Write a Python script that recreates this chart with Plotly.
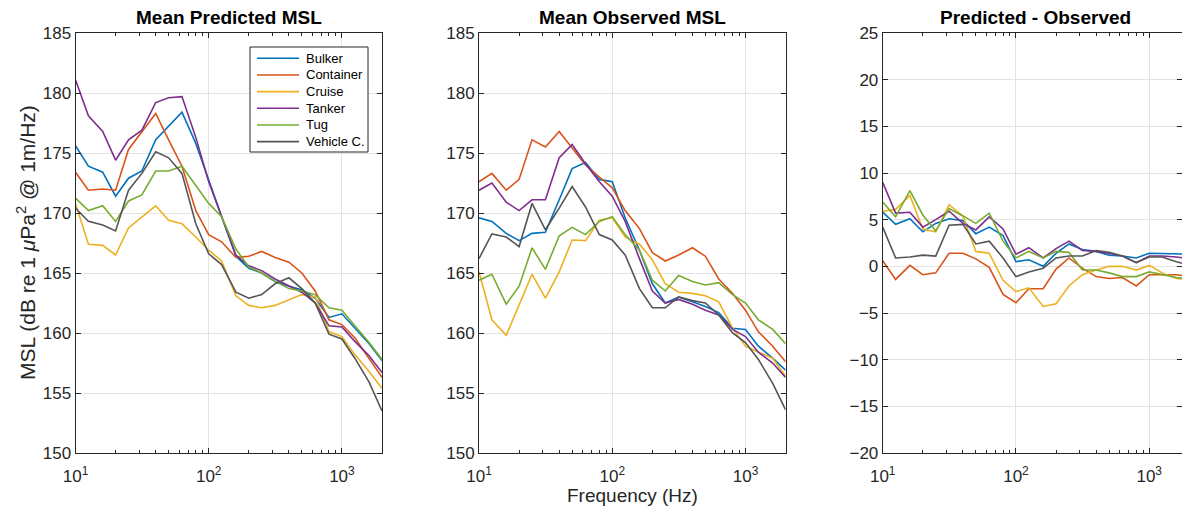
import plotly.graph_objects as go

freqs = [10, 12.5, 16, 20, 25, 31.5, 40, 50, 63, 80, 100, 125, 160, 200, 250,
         315, 400, 500, 630, 800, 1000, 1250, 1600, 2000]

names = ["Bulker", "Container", "Cruise", "Tanker", "Tug", "Vehicle C."]
colors = ["#0072BD", "#D95319", "#EDB120", "#7E2F8E", "#77AC30", "#555555"]

pred_bulker = [175.6, 173.9, 173.4, 171.4, 172.9, 173.5, 176.1, 177.2, 178.4, 175.8, 172.7, 169.7,
               166.4, 165.4, 165.0, 164.3, 163.9, 163.6, 162.9, 161.3, 161.6, 160.4, 159.1, 157.7]
pred_container = [173.4, 171.9, 172.0, 171.9, 175.3, 176.8, 178.3, 176.1, 173.9, 170.2, 168.2, 167.6,
                  166.3, 166.4, 166.8, 166.3, 165.9, 165.0, 163.5, 161.1, 160.7, 159.6, 157.9, 156.3]
pred_cruise = [170.8, 167.4, 167.3, 166.5, 168.75, 169.7, 170.6, 169.4, 169.1, 168.0, 166.9, 166.0,
               163.1, 162.3, 162.1, 162.3, 162.8, 163.2, 163.0, 160.1, 159.7, 158.2, 156.8, 155.4]
pred_tanker = [181.1, 178.1, 176.8, 174.4, 176.1, 176.9, 179.2, 179.6, 179.7, 176.3, 172.6, 169.7,
               166.5, 165.6, 165.2, 164.5, 163.9, 163.4, 162.5, 160.6, 160.5, 159.3, 158.1, 156.7]
pred_tug = [171.25, 170.2, 170.6, 169.3, 171.0, 171.5, 173.5, 173.5, 173.9, 172.3, 170.8, 169.7,
            167.0, 165.5, 165.0, 164.3, 163.7, 163.5, 163.2, 162.1, 161.9, 160.6, 159.2, 157.8]
pred_vehicle = [170.4, 169.3, 169.0, 168.5, 171.9, 173.3, 175.1, 174.6, 173.3, 169.1, 166.6, 165.7,
                163.4, 162.9, 163.2, 164.1, 164.6, 163.7, 162.5, 159.9, 159.5, 157.9, 155.9, 153.5]

obs_bulker = [169.6, 169.3, 168.3, 167.7, 168.3, 168.4, 171.1, 173.7, 174.2, 172.8, 172.6, 169.6,
              166.9, 164.1, 162.5, 163.0, 162.6, 162.2, 161.7, 160.4, 160.3, 158.9, 157.9, 156.9]
obs_container = [172.6, 173.3, 171.9, 172.8, 176.1, 175.5, 176.8, 175.4, 174.0, 173.0, 172.1, 170.2,
                 168.7, 166.7, 166.0, 166.5, 167.1, 166.4, 164.5, 163.3, 161.9, 160.1, 158.9, 157.6]
obs_cruise = [165.1, 161.1, 159.8, 162.3, 164.9, 162.9, 165.1, 167.75, 167.7, 169.4, 169.6, 168.0,
              167.4, 166.1, 164.1, 163.4, 163.3, 163.1, 162.6, 160.4, 158.9, 158.4, 157.9, 156.4]
obs_tanker = [171.9, 172.5, 170.9, 170.2, 171.1, 171.1, 174.6, 175.7, 174.1, 172.6, 171.4, 169.3,
              166.2, 163.5, 162.5, 162.8, 162.4, 161.9, 161.5, 160.3, 159.7, 158.4, 157.5, 156.3]
obs_tug = [164.4, 164.9, 162.4, 163.9, 167.1, 165.3, 168.1, 168.8, 168.2, 169.3, 169.7, 168.2,
           166.9, 164.4, 163.5, 164.8, 164.3, 164.0, 164.2, 163.2, 162.5, 161.1, 160.3, 159.1]
obs_vehicle = [166.2, 168.25, 168.0, 167.2, 170.8, 168.6, 170.4, 172.2, 170.5, 168.2, 167.75, 166.5,
               163.7, 162.1, 162.1, 163.0, 162.7, 162.5, 161.5, 160.0, 159.2, 157.8, 155.8, 153.6]

diff_bulker = [5.8, 4.5, 5.1, 3.7, 4.6, 5.1, 4.9, 3.5, 4.2, 3.3, 0.5, 0.7,
               0.0, 1.4, 2.4, 1.8, 1.6, 1.2, 1.1, 0.9, 1.4, 1.4, 1.4, 1.3]
diff_container = [0.6, -1.4, 0.1, -0.9, -0.7, 1.4, 1.4, 0.8, -0.1, -3.0, -3.9, -2.4,
                  -2.4, -0.3, 0.9, -0.2, -1.1, -1.3, -1.2, -2.1, -0.9, -0.9, -0.9, -1.1]
diff_cruise = [5.9, 6.1, 7.6, 4.0, 3.7, 6.6, 5.4, 1.6, 1.4, -1.5, -2.7, -2.3,
               -4.3, -4.0, -2.1, -0.9, -0.4, 0.0, 0.0, -0.4, 0.1, -0.7, -1.3, -1.4]
diff_tanker = [9.0, 5.7, 5.8, 4.2, 5.0, 5.9, 4.6, 3.9, 5.3, 4.0, 1.3, 2.0,
               0.9, 1.9, 2.7, 1.7, 1.6, 1.4, 1.1, 0.4, 1.1, 1.1, 1.0, 0.8]
diff_tug = [6.9, 5.3, 8.1, 5.5, 3.8, 6.2, 5.4, 4.6, 5.7, 2.7, 0.9, 1.6,
            0.9, 1.6, 1.5, -0.4, -0.4, -0.7, -1.1, -1.1, -0.6, -0.9, -1.2, -1.4]
diff_vehicle = [4.2, 0.9, 1.0, 1.2, 1.1, 4.4, 4.5, 2.4, 2.7, 0.9, -1.1, -0.6,
                -0.2, 0.9, 1.1, 1.1, 1.7, 1.5, 1.1, 0.4, 1.0, 1.0, 0.5, 0.1]

predicted = [pred_bulker, pred_container, pred_cruise, pred_tanker, pred_tug, pred_vehicle]
observed = [obs_bulker, obs_container, obs_cruise, obs_tanker, obs_tug, obs_vehicle]
difference = [diff_bulker, diff_container, diff_cruise, diff_tanker, diff_tug, diff_vehicle]

titles = ["Mean Predicted MSL", "Mean Observed MSL", "Predicted - Observed"]
x_tickvals = [10, 100, 1000]
x_ticktext = ["10<sup>1</sup>", "10<sup>2</sup>", "10<sup>3</sup>"]
x_minorvals = [20, 30, 40, 50, 60, 70, 80, 90, 200, 300, 400, 500, 600, 700, 800, 900]

W, H = 1182, 512
FONT = "Liberation Sans, Arial, Helvetica, sans-serif"
AX = "#262626"
GRID = "#e3e3e3"

fig = go.Figure()

panels = [predicted, observed, difference]
for p, data in enumerate(panels):
    suffix = "" if p == 0 else str(p + 1)
    for name, color, ys in zip(names, colors, data):
        fig.add_trace(go.Scatter(
            x=freqs, y=ys, mode="lines", name=name,
            line=dict(color=color, width=1.6),
            xaxis="x" + suffix, yaxis="y" + suffix,
            showlegend=False,
        ))

# pixel layout
px_x = [(75.5, 382.0), (479.0, 785.6), (882.7, 1182.0)]
x_ranges = [[1, 3.30103], [1, 3.30103], [1, 1 + (1182.0 - 882.7) / 133.25]]
y_top, y_bot = 33.0, 453.0
ydom = [1 - y_bot / H, 1 - y_top / H]
y_ranges = [[150, 185], [150, 185], [-20, 25]]

for p in range(3):
    suffix = "" if p == 0 else str(p + 1)
    xd = [px_x[p][0] / W, min(px_x[p][1] / W, 1.0)]
    xa = dict(
        type="log", domain=xd, range=x_ranges[p], anchor="y" + suffix,
        tickmode="array", tickvals=x_tickvals, ticktext=x_ticktext,
        ticks="inside", ticklen=5, tickcolor=AX, tickwidth=1,
        showline=True, linecolor=AX, linewidth=1, mirror="ticks",
        showgrid=True, gridcolor=GRID, gridwidth=1,
        zeroline=False, automargin=False, ticklabelstandoff=8,
        tickfont=dict(family=FONT, size=17, color=AX),
        minor=dict(tickmode="array", tickvals=x_minorvals, ticks="inside",
                   ticklen=3, tickcolor=AX, tickwidth=1, showgrid=False),
    )
    ya = dict(
        domain=ydom, range=y_ranges[p], anchor="x" + suffix, dtick=5,
        ticks="inside", ticklen=5, tickcolor=AX, tickwidth=1,
        showline=True, linecolor=AX, linewidth=1, mirror="ticks",
        showgrid=True, gridcolor=GRID, gridwidth=1,
        zeroline=False, automargin=False,
        tickfont=dict(family=FONT, size=17, color=AX),
    )
    fig.layout["xaxis" + suffix] = xa
    fig.layout["yaxis" + suffix] = ya

annotations = []
for p in range(3):
    if p == 2:
        cx = px_x[p][0] + (382.0 - 75.5) / 2
    else:
        cx = (px_x[p][0] + px_x[p][1]) / 2
    annotations.append(dict(
        text="<b>" + titles[p] + "</b>", x=cx / W, y=1 - 17 / H,
        xref="paper", yref="paper", xanchor="center", yanchor="middle",
        showarrow=False, font=dict(family=FONT, size=19, color="#000000"),
    ))

# axis titles
annotations.append(dict(
    text="Frequency (Hz)", x=632.3 / W, y=1 - 495 / H, xref="paper", yref="paper",
    xanchor="center", yanchor="middle", showarrow=False,
    font=dict(family=FONT, size=19, color=AX),
))
annotations.append(dict(
    text="MSL (dB re 1 <i>μ</i>Pa<sup>2</sup> @ 1m/Hz)", x=26 / W, y=1 - 243 / H,
    xref="paper", yref="paper", xanchor="center", yanchor="middle", textangle=-90,
    showarrow=False, font=dict(family=FONT, size=21, color=AX),
))

# manual legend (box, sample lines, labels) in the first panel
shapes = []
box_l, box_r, box_t, box_b = 250, 368, 47, 152
shapes.append(dict(type="rect", xref="paper", yref="paper",
                   x0=box_l / W, x1=box_r / W, y0=1 - box_b / H, y1=1 - box_t / H,
                   line=dict(color=AX, width=1), fillcolor="white", layer="above"))
for k, (name, color) in enumerate(zip(names, colors)):
    yy = 58.3 + k * 16.67
    shapes.append(dict(type="line", xref="paper", yref="paper",
                       x0=257 / W, x1=299 / W, y0=1 - yy / H, y1=1 - yy / H,
                       line=dict(color=color, width=1.6), layer="above"))
    annotations.append(dict(
        text=name, x=303.5 / W, y=1 - yy / H, xref="paper", yref="paper",
        xanchor="left", yanchor="middle", showarrow=False,
        font=dict(family=FONT, size=13, color="#000000"),
    ))

fig.update_layout(
    width=W, height=H,
    margin=dict(l=0, r=0, t=0, b=0, autoexpand=False),
    paper_bgcolor="white", plot_bgcolor="white",
    annotations=annotations,
    shapes=shapes,
    showlegend=False,
    font=dict(family=FONT, color=AX),
)

fig.write_html("out.html")
